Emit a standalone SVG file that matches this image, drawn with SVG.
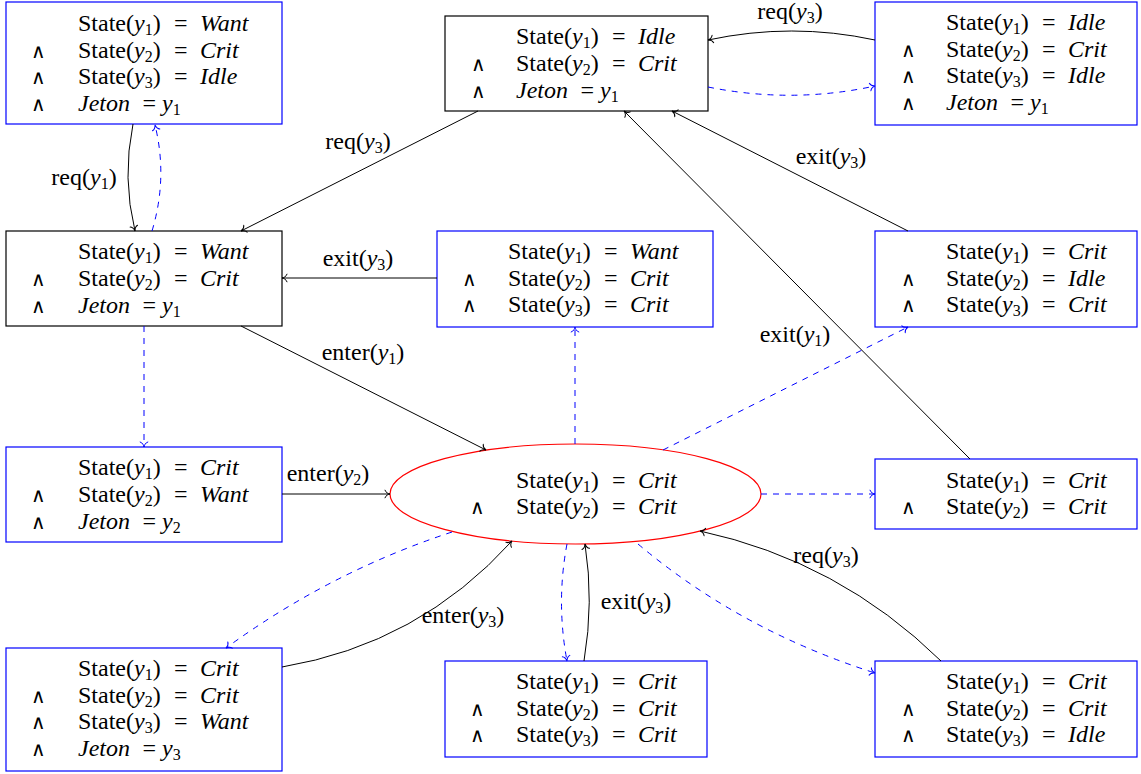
<svg xmlns="http://www.w3.org/2000/svg" width="1141" height="774" viewBox="0 0 1141 774">
<style>
text{font-family:'Liberation Serif','Times New Roman',serif;font-size:24px;fill:#000}
.i{font-style:italic}
.s{font-size:16px}
.w{text-anchor:middle}
.a{font-family:'DejaVu Sans',sans-serif;font-weight:200;font-size:20px}
.bb{fill:#fff;stroke:#0000ff;stroke-width:1.2}
.bk{fill:#fff;stroke:#000;stroke-width:1.2}
.el{fill:#fff;stroke:#ff0000;stroke-width:1.2}
.c{fill:none;stroke:#000;stroke-width:1}
.d{fill:none;stroke:#0000ff;stroke-width:1;stroke-dasharray:6 6}
.ca{marker-end:url(#ab)}
.da{marker-end:url(#au)}
</style>
<defs>
<marker id="ab" viewBox="-7 -5 9 10" refX="0" refY="0" markerWidth="9" markerHeight="10" markerUnits="userSpaceOnUse" orient="auto"><path d="M-5,-3.8 C-4.2,-1.2 -1.5,-0.3 0,0 C-1.5,0.3 -4.2,1.2 -5,3.8" fill="none" stroke="#000" stroke-width="1" stroke-dasharray="none" stroke-linecap="round"/></marker>
<marker id="au" viewBox="-7 -5 9 10" refX="0" refY="0" markerWidth="9" markerHeight="10" markerUnits="userSpaceOnUse" orient="auto"><path d="M-5,-3.8 C-4.2,-1.2 -1.5,-0.3 0,0 C-1.5,0.3 -4.2,1.2 -5,3.8" fill="none" stroke="#0000ff" stroke-width="1" stroke-dasharray="none" stroke-linecap="round"/></marker>
</defs>

<g id="nodeA">
<rect class="bb" x="6" y="2" width="276" height="122"/>
<text x="78" y="31">State(<tspan class="i">y</tspan><tspan class="s" dy="4">1</tspan><tspan dy="-4">)</tspan><tspan x="174">=</tspan><tspan x="200" class="i">Want</tspan></text>
<text x="38" y="57.5" class="w a">∧</text>
<text x="78" y="57.5">State(<tspan class="i">y</tspan><tspan class="s" dy="4">2</tspan><tspan dy="-4">)</tspan><tspan x="174">=</tspan><tspan x="200" class="i">Crit</tspan></text>
<text x="38" y="84" class="w a">∧</text>
<text x="78" y="84">State(<tspan class="i">y</tspan><tspan class="s" dy="4">3</tspan><tspan dy="-4">)</tspan><tspan x="174">=</tspan><tspan x="200" class="i">Idle</tspan></text>
<text x="38" y="111" class="w a">∧</text>
<text x="78" y="111"><tspan class="i">Jeton</tspan><tspan x="142.5">=</tspan><tspan x="162" class="i">y</tspan><tspan class="s" dy="4">1</tspan></text>
</g>

<g id="nodeB">
<rect class="bk" x="6" y="231" width="276" height="95"/>
<text x="78" y="259">State(<tspan class="i">y</tspan><tspan class="s" dy="4">1</tspan><tspan dy="-4">)</tspan><tspan x="174">=</tspan><tspan x="200" class="i">Want</tspan></text>
<text x="38" y="285.5" class="w a">∧</text>
<text x="78" y="285.5">State(<tspan class="i">y</tspan><tspan class="s" dy="4">2</tspan><tspan dy="-4">)</tspan><tspan x="174">=</tspan><tspan x="200" class="i">Crit</tspan></text>
<text x="38" y="312.5" class="w a">∧</text>
<text x="78" y="312.5"><tspan class="i">Jeton</tspan><tspan x="142.5">=</tspan><tspan x="162" class="i">y</tspan><tspan class="s" dy="4">1</tspan></text>
</g>

<g id="nodeC">
<rect class="bk" x="445" y="16" width="263" height="95"/>
<text x="516" y="44">State(<tspan class="i">y</tspan><tspan class="s" dy="4">1</tspan><tspan dy="-4">)</tspan><tspan x="612">=</tspan><tspan x="638" class="i">Idle</tspan></text>
<text x="478" y="70.5" class="w a">∧</text>
<text x="516" y="70.5">State(<tspan class="i">y</tspan><tspan class="s" dy="4">2</tspan><tspan dy="-4">)</tspan><tspan x="612">=</tspan><tspan x="638" class="i">Crit</tspan></text>
<text x="478" y="97.5" class="w a">∧</text>
<text x="516" y="97.5"><tspan class="i">Jeton</tspan><tspan x="580.5">=</tspan><tspan x="600" class="i">y</tspan><tspan class="s" dy="4">1</tspan></text>
</g>

<g id="nodeD">
<rect class="bb" x="875" y="2" width="262" height="123"/>
<text x="946" y="30">State(<tspan class="i">y</tspan><tspan class="s" dy="4">1</tspan><tspan dy="-4">)</tspan><tspan x="1042">=</tspan><tspan x="1068" class="i">Idle</tspan></text>
<text x="908" y="56.5" class="w a">∧</text>
<text x="946" y="56.5">State(<tspan class="i">y</tspan><tspan class="s" dy="4">2</tspan><tspan dy="-4">)</tspan><tspan x="1042">=</tspan><tspan x="1068" class="i">Crit</tspan></text>
<text x="908" y="83" class="w a">∧</text>
<text x="946" y="83">State(<tspan class="i">y</tspan><tspan class="s" dy="4">3</tspan><tspan dy="-4">)</tspan><tspan x="1042">=</tspan><tspan x="1068" class="i">Idle</tspan></text>
<text x="908" y="110" class="w a">∧</text>
<text x="946" y="110"><tspan class="i">Jeton</tspan><tspan x="1010.5">=</tspan><tspan x="1030" class="i">y</tspan><tspan class="s" dy="4">1</tspan></text>
</g>

<g id="nodeE">
<rect class="bb" x="437" y="231" width="276" height="96"/>
<text x="508" y="259">State(<tspan class="i">y</tspan><tspan class="s" dy="4">1</tspan><tspan dy="-4">)</tspan><tspan x="604">=</tspan><tspan x="630" class="i">Want</tspan></text>
<text x="469" y="285.5" class="w a">∧</text>
<text x="508" y="285.5">State(<tspan class="i">y</tspan><tspan class="s" dy="4">2</tspan><tspan dy="-4">)</tspan><tspan x="604">=</tspan><tspan x="630" class="i">Crit</tspan></text>
<text x="469" y="312" class="w a">∧</text>
<text x="508" y="312">State(<tspan class="i">y</tspan><tspan class="s" dy="4">3</tspan><tspan dy="-4">)</tspan><tspan x="604">=</tspan><tspan x="630" class="i">Crit</tspan></text>
</g>

<g id="nodeF">
<rect class="bb" x="875" y="231" width="262" height="96"/>
<text x="946" y="259">State(<tspan class="i">y</tspan><tspan class="s" dy="4">1</tspan><tspan dy="-4">)</tspan><tspan x="1042">=</tspan><tspan x="1068" class="i">Crit</tspan></text>
<text x="908" y="285.5" class="w a">∧</text>
<text x="946" y="285.5">State(<tspan class="i">y</tspan><tspan class="s" dy="4">2</tspan><tspan dy="-4">)</tspan><tspan x="1042">=</tspan><tspan x="1068" class="i">Idle</tspan></text>
<text x="908" y="312" class="w a">∧</text>
<text x="946" y="312">State(<tspan class="i">y</tspan><tspan class="s" dy="4">3</tspan><tspan dy="-4">)</tspan><tspan x="1042">=</tspan><tspan x="1068" class="i">Crit</tspan></text>
</g>

<g id="nodeG">
<rect class="bb" x="6" y="447" width="276" height="95"/>
<text x="78" y="475">State(<tspan class="i">y</tspan><tspan class="s" dy="4">1</tspan><tspan dy="-4">)</tspan><tspan x="174">=</tspan><tspan x="200" class="i">Crit</tspan></text>
<text x="38" y="501.5" class="w a">∧</text>
<text x="78" y="501.5">State(<tspan class="i">y</tspan><tspan class="s" dy="4">2</tspan><tspan dy="-4">)</tspan><tspan x="174">=</tspan><tspan x="200" class="i">Want</tspan></text>
<text x="38" y="528.5" class="w a">∧</text>
<text x="78" y="528.5"><tspan class="i">Jeton</tspan><tspan x="142.5">=</tspan><tspan x="162" class="i">y</tspan><tspan class="s" dy="4">2</tspan></text>
</g>

<g id="nodeInit">
<ellipse class="el" cx="575.5" cy="494" rx="185.5" ry="50"/>
<text x="516" y="487.5">State(<tspan class="i">y</tspan><tspan class="s" dy="4">1</tspan><tspan dy="-4">)</tspan><tspan x="612">=</tspan><tspan x="638" class="i">Crit</tspan></text>
<text x="477" y="514" class="w a">∧</text>
<text x="516" y="514">State(<tspan class="i">y</tspan><tspan class="s" dy="4">2</tspan><tspan dy="-4">)</tspan><tspan x="612">=</tspan><tspan x="638" class="i">Crit</tspan></text>
</g>

<g id="nodeH">
<rect class="bb" x="875" y="459" width="262" height="70"/>
<text x="946" y="487.5">State(<tspan class="i">y</tspan><tspan class="s" dy="4">1</tspan><tspan dy="-4">)</tspan><tspan x="1042">=</tspan><tspan x="1068" class="i">Crit</tspan></text>
<text x="908" y="514" class="w a">∧</text>
<text x="946" y="514">State(<tspan class="i">y</tspan><tspan class="s" dy="4">2</tspan><tspan dy="-4">)</tspan><tspan x="1042">=</tspan><tspan x="1068" class="i">Crit</tspan></text>
</g>

<g id="nodeI">
<rect class="bb" x="6" y="648" width="276" height="123"/>
<text x="78" y="676">State(<tspan class="i">y</tspan><tspan class="s" dy="4">1</tspan><tspan dy="-4">)</tspan><tspan x="174">=</tspan><tspan x="200" class="i">Crit</tspan></text>
<text x="38" y="702.5" class="w a">∧</text>
<text x="78" y="702.5">State(<tspan class="i">y</tspan><tspan class="s" dy="4">2</tspan><tspan dy="-4">)</tspan><tspan x="174">=</tspan><tspan x="200" class="i">Crit</tspan></text>
<text x="38" y="729" class="w a">∧</text>
<text x="78" y="729">State(<tspan class="i">y</tspan><tspan class="s" dy="4">3</tspan><tspan dy="-4">)</tspan><tspan x="174">=</tspan><tspan x="200" class="i">Want</tspan></text>
<text x="38" y="756" class="w a">∧</text>
<text x="78" y="756"><tspan class="i">Jeton</tspan><tspan x="142.5">=</tspan><tspan x="162" class="i">y</tspan><tspan class="s" dy="4">3</tspan></text>
</g>

<g id="nodeJ">
<rect class="bb" x="445" y="661" width="262" height="96"/>
<text x="516" y="689">State(<tspan class="i">y</tspan><tspan class="s" dy="4">1</tspan><tspan dy="-4">)</tspan><tspan x="612">=</tspan><tspan x="638" class="i">Crit</tspan></text>
<text x="477" y="715.5" class="w a">∧</text>
<text x="516" y="715.5">State(<tspan class="i">y</tspan><tspan class="s" dy="4">2</tspan><tspan dy="-4">)</tspan><tspan x="612">=</tspan><tspan x="638" class="i">Crit</tspan></text>
<text x="477" y="742" class="w a">∧</text>
<text x="516" y="742">State(<tspan class="i">y</tspan><tspan class="s" dy="4">3</tspan><tspan dy="-4">)</tspan><tspan x="612">=</tspan><tspan x="638" class="i">Crit</tspan></text>
</g>

<g id="nodeK">
<rect class="bb" x="875" y="661" width="262" height="96"/>
<text x="946" y="689">State(<tspan class="i">y</tspan><tspan class="s" dy="4">1</tspan><tspan dy="-4">)</tspan><tspan x="1042">=</tspan><tspan x="1068" class="i">Crit</tspan></text>
<text x="908" y="715.5" class="w a">∧</text>
<text x="946" y="715.5">State(<tspan class="i">y</tspan><tspan class="s" dy="4">2</tspan><tspan dy="-4">)</tspan><tspan x="1042">=</tspan><tspan x="1068" class="i">Crit</tspan></text>
<text x="908" y="742" class="w a">∧</text>
<text x="946" y="742">State(<tspan class="i">y</tspan><tspan class="s" dy="4">3</tspan><tspan dy="-4">)</tspan><tspan x="1042">=</tspan><tspan x="1068" class="i">Idle</tspan></text>
</g>

<g id="connectors">
<path class="c ca" d="M133,124 Q122,178 135,231"/>
<path class="d da" d="M152,231 Q168,178 155,125"/>
<path class="c ca" d="M478,111 L241,231"/>
<path class="c ca" d="M875,40 Q792,22 708,40"/>
<path class="d da" d="M708,87 Q792,104 875,86"/>
<path class="c ca" d="M908,231 L672,111"/>
<path class="c ca" d="M970,459 L624,111"/>
<path class="c ca" d="M437,278 L282,278"/>
<path class="d da" d="M144,326 L144,447"/>
<path class="c ca" d="M241,326 L486,450"/>
<path class="c ca" d="M282,494 L390,494"/>
<path class="d da" d="M575,444 L575,327"/>
<path class="d da" d="M663,450 L908,327"/>
<path class="d da" d="M761,494 L875,494"/>
<path class="d da" d="M452,532 Q330,572 226,648"/>
<path class="c ca" d="M282,667 Q419,644 512,541"/>
<path class="d da" d="M567,544 Q556,602 567,661"/>
<path class="c ca" d="M584,661 Q594,602 585,544"/>
<path class="d da" d="M638,544 Q740,630 875,673"/>
<path class="c ca" d="M941,661 Q839,561 700,531"/>
<text x="84" y="185" class="w">req(<tspan class="i">y</tspan><tspan class="s" dy="4">1</tspan><tspan dy="-4">)</tspan></text>
<text x="358" y="149" class="w">req(<tspan class="i">y</tspan><tspan class="s" dy="4">3</tspan><tspan dy="-4">)</tspan></text>
<text x="790" y="19" class="w">req(<tspan class="i">y</tspan><tspan class="s" dy="4">3</tspan><tspan dy="-4">)</tspan></text>
<text x="831" y="164" class="w">exit(<tspan class="i">y</tspan><tspan class="s" dy="4">3</tspan><tspan dy="-4">)</tspan></text>
<text x="358" y="266" class="w">exit(<tspan class="i">y</tspan><tspan class="s" dy="4">3</tspan><tspan dy="-4">)</tspan></text>
<text x="795" y="342" class="w">exit(<tspan class="i">y</tspan><tspan class="s" dy="4">1</tspan><tspan dy="-4">)</tspan></text>
<text x="363" y="360" class="w">enter(<tspan class="i">y</tspan><tspan class="s" dy="4">1</tspan><tspan dy="-4">)</tspan></text>
<text x="328" y="481" class="w">enter(<tspan class="i">y</tspan><tspan class="s" dy="4">2</tspan><tspan dy="-4">)</tspan></text>
<text x="463" y="623" class="w">enter(<tspan class="i">y</tspan><tspan class="s" dy="4">3</tspan><tspan dy="-4">)</tspan></text>
<text x="636" y="609" class="w">exit(<tspan class="i">y</tspan><tspan class="s" dy="4">3</tspan><tspan dy="-4">)</tspan></text>
<text x="826" y="563" class="w">req(<tspan class="i">y</tspan><tspan class="s" dy="4">3</tspan><tspan dy="-4">)</tspan></text>
</g>
</svg>
